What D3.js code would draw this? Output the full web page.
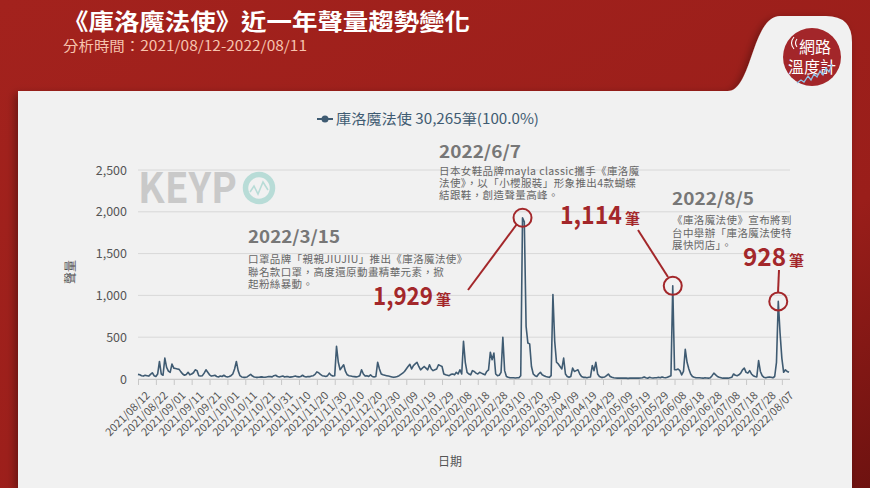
<!DOCTYPE html>
<html>
<head>
<meta charset="utf-8">
<script src="https://cdn.jsdelivr.net/npm/d3@7"></script>
<style>
html,body{margin:0;padding:0;background:#a11f1b;}
svg{display:block;}
text{font-family:"Noto Sans CJK TC","Noto Sans",sans-serif;}
</style>
</head>
<body>
<div id="chart"></div>
<script>
// ---- data ----
const startDate = "2021-08-12";
const values = [
  55, 50, 40, 35, 45, 40, 35, 55, 75, 40,
  30, 60, 210, 60, 45, 250, 140, 95, 80, 180,
  130, 125, 120, 115, 85, 60, 45, 55, 80, 50,
  60, 75, 110, 100, 40, 35, 40, 70, 110, 80,
  50, 35, 40, 45, 30, 25, 35, 30, 45, 30,
  25, 30, 40, 60, 120, 210, 100, 40, 25, 20,
  20, 25, 40, 55, 35, 25, 20, 20, 22, 25,
  22, 20, 25, 30, 28, 25, 40, 45, 30, 25,
  30, 35, 25, 30, 28, 22, 25, 30, 35, 28,
  25, 30, 45, 30, 25, 30, 28, 35, 40, 55,
  85, 75, 55, 40, 35, 30, 40, 70, 45, 35,
  40, 390, 200, 110, 140, 170, 90, 50, 40, 35,
  30, 28, 25, 30, 40, 110, 60, 35, 40, 30,
  50, 30, 25, 30, 200, 120, 60, 50, 45, 40,
  35, 30, 25, 20, 25, 30, 40, 55, 70, 90,
  120, 150, 175, 120, 160, 180, 200, 150, 110, 130,
  150, 130, 110, 170, 120, 100, 110, 120, 170, 160,
  150, 60, 50, 45, 40, 55, 60, 50, 80, 60,
  110, 60, 450, 200, 80, 60, 50, 100, 90, 70,
  60, 80, 70, 60, 50, 90, 110, 320, 230, 310,
  60, 40, 45, 80, 500, 100, 30, 20, 15, 15,
  15, 12, 15, 15, 40, 1929, 1880, 630, 430, 420,
  150, 60, 40, 30, 60, 80, 50, 40, 30, 25,
  20, 40, 1010, 450, 200, 180, 150, 120, 250, 60,
  30, 20, 30, 130, 90, 100, 110, 60, 30, 20,
  20, 15, 20, 25, 160, 100, 200, 60, 30, 20,
  20, 25, 40, 60, 30, 20, 15, 12, 10, 10,
  10, 12, 10, 10, 8, 10, 12, 10, 10, 10,
  10, 12, 15, 25, 15, 10, 20, 15, 12, 15,
  15, 20, 15, 25, 18, 15, 20, 30, 40, 1114,
  110, 110, 120, 100, 50, 90, 355, 200, 120, 60,
  30, 20, 15, 15, 15, 12, 10, 15, 12, 10,
  15, 40, 70, 50, 30, 20, 15, 10, 10, 12,
  10, 15, 20, 60, 45, 40, 50, 70, 110, 130,
  80, 70, 100, 60, 40, 30, 25, 220, 90, 40,
  20, 15, 20, 25, 20, 15, 30, 200, 928, 550,
  250, 80, 110, 90, 80
];
const tickLabels = [
  "2021/08/12","2021/08/22","2021/09/01","2021/09/11","2021/09/21","2021/10/01",
  "2021/10/11","2021/10/21","2021/10/31","2021/11/10","2021/11/20","2021/11/30",
  "2021/12/10","2021/12/20","2021/12/30","2022/01/09","2022/01/19","2022/01/29",
  "2022/02/08","2022/02/18","2022/02/28","2022/03/10","2022/03/20","2022/03/30",
  "2022/04/09","2022/04/19","2022/04/29","2022/05/09","2022/05/19","2022/05/29",
  "2022/06/08","2022/06/18","2022/06/28","2022/07/08","2022/07/18","2022/07/28",
  "2022/08/07"
];
const yTicks = [0, 500, 1000, 1500, 2000, 2500];
const seriesName = "庫洛魔法使";
const legendLabel = "庫洛魔法使 30,265筆(100.0%)";
const title = "《庫洛魔法使》近一年聲量趨勢變化";
const subtitle = "分析時間：2021/08/12-2022/08/11";
const annotations = [
  {date:"2022/03/15", value:1929, label:"1,929", head:"2022/3/15",
   lines:["口罩品牌「親親JIUJIU」推出《庫洛魔法使》","聯名款口罩，高度還原動畫精華元素，掀","起粉絲暴動。"]},
  {date:"2022/06/07", value:1114, label:"1,114", head:"2022/6/7",
   lines:["日本女鞋品牌mayla  classic攜手《庫洛魔","法使》，以「小櫻服裝」形象推出4款蝴蝶","結跟鞋，創造聲量高峰。"]},
  {date:"2022/08/05", value:928, label:"928", head:"2022/8/5",
   lines:["《庫洛魔法使》宣布將到","台中舉辦「庫洛魔法使特","展快閃店」。"]}
];

// ---- setup ----
const W = 870, H = 488;
const parse = d3.timeParse("%Y-%m-%d");
const parseSlash = d3.timeParse("%Y/%m/%d");
const t0 = parse(startDate);
const data = values.map((v, i) => ({date: d3.timeDay.offset(t0, i), value: v}));

const svg = d3.select("#chart").append("svg").attr("width", W).attr("height", H);
const defs = svg.append("defs");
const g1 = defs.append("linearGradient").attr("id","hdr").attr("x1","0").attr("x2","1").attr("y1","0").attr("y2","1");
g1.append("stop").attr("offset","0%").attr("stop-color","#a3221d");
g1.append("stop").attr("offset","70%").attr("stop-color","#9a1e1a");
g1.append("stop").attr("offset","100%").attr("stop-color","#6e1210");
const f = defs.append("filter").attr("id","shadow").attr("x","-10%").attr("y","-10%").attr("width","120%").attr("height","130%");
f.append("feDropShadow").attr("dx",-3).attr("dy",3).attr("stdDeviation",4).attr("flood-color","#000").attr("flood-opacity",0.35);

svg.append("rect").attr("width", W).attr("height", H).attr("fill", "url(#hdr)");

// card shape
const card = d3.path();
card.moveTo(18, 91);
card.lineTo(728, 91);
card.bezierCurveTo(752, 91, 752, 16, 780, 16);
card.lineTo(826, 16);
card.quadraticCurveTo(852, 16, 852, 42);
card.lineTo(852, 488);
card.lineTo(18, 488);
card.closePath();
svg.append("path").attr("d", card.toString()).attr("fill", "#f1f1f1").attr("filter", "url(#shadow)");

// title
svg.append("text").attr("x", 63).attr("y", 30).attr("fill", "#fff")
  .attr("font-size", 23).attr("font-weight", "bold")
  .attr("textLength", 407).attr("lengthAdjust", "spacingAndGlyphs").text(title);
svg.append("text").attr("x", 63).attr("y", 51).attr("fill", "#f6c3ae")
  .attr("font-size", 14).attr("textLength", 244).attr("lengthAdjust", "spacingAndGlyphs").text(subtitle);

// logo
const logo = svg.append("g");
logo.append("circle").attr("cx", 812).attr("cy", 57).attr("r", 29).attr("fill", "#a3262a");
logo.append("text").attr("x", 815).attr("y", 53).attr("text-anchor","middle").attr("fill","#fff")
  .attr("font-size", 16).text("網路");
logo.append("text").attr("x", 812).attr("y", 73).attr("text-anchor","middle").attr("fill","#fff")
  .attr("font-size", 16).text("溫度計");
logo.append("path").attr("d","M797,39 q-3,4 0,8").attr("fill","none").attr("stroke","#fff").attr("stroke-width",1.1);
logo.append("path").attr("d","M794,37 q-5,6 0,12").attr("fill","none").attr("stroke","#fff").attr("stroke-width",1.1);
logo.append("polyline").attr("points","797,83 801,80 804,82 808,76 811,80 814,74 817,77 820,71 823,75 826,68 829,72 832,64")
  .attr("fill","none").attr("stroke","#8fc3e8").attr("stroke-width",1.3);

// scales
const x = d3.scaleTime().domain([t0, data[data.length-1].date]).range([138, 789]);
const y = d3.scaleLinear().domain([0, 2500]).range([379, 170]);

// grid
svg.append("g").selectAll("line").data(yTicks).join("line")
  .attr("x1", 138).attr("x2", 790).attr("y1", d => y(d)).attr("y2", d => y(d))
  .attr("stroke", "#d8d8d8").attr("stroke-width", 1);

// y axis labels
const yAxis = d3.axisLeft(y).tickValues(yTicks).tickFormat(d3.format(",")).tickSize(0).tickPadding(11);
const ya = svg.append("g").attr("transform", "translate(138,0)").call(yAxis);
ya.select(".domain").remove();
ya.selectAll("text").attr("font-size", 12.5).attr("fill", "#555").attr("font-family", "'Noto Sans','Noto Sans CJK TC',sans-serif");

svg.append("text").attr("transform", "translate(75,272) rotate(-90)").attr("text-anchor","middle")
  .attr("font-size", 12).attr("fill", "#555").text("聲量");

// watermark
svg.append("text").attr("x", 138).attr("y", 203).attr("font-size", 42).attr("font-weight", "bold")
  .attr("fill", "#c9c9c9").attr("font-family", "'Liberation Sans',Arial,sans-serif")
  .attr("textLength", 99).attr("lengthAdjust","spacingAndGlyphs").text("KEYP");
svg.append("circle").attr("cx", 259).attr("cy", 188).attr("r", 13.5).attr("fill","none")
  .attr("stroke","#b8dcd7").attr("stroke-width",5.5);
svg.append("polyline").attr("points","250,192 254,186 258,194 263,182 268,190")
  .attr("fill","none").attr("stroke","#b8dcd7").attr("stroke-width",1.6);

// x axis
const tickDates = tickLabels.map(s => parseSlash(s));
const xAxis = d3.axisBottom(x).tickValues(tickDates).tickFormat(d3.timeFormat("%Y/%m/%d")).tickSize(6).tickPadding(4);
const xa = svg.append("g").attr("transform", "translate(0,379)").call(xAxis);
xa.select(".domain").attr("stroke", "#c8c8c8").attr("d", "M138,0.5H790");
xa.selectAll(".tick line").attr("stroke", "#c8c8c8");
xa.selectAll("text").attr("font-size", 11).attr("fill", "#555")
  .attr("font-family", "'Noto Sans','Noto Sans CJK TC',sans-serif")
  .attr("text-anchor", "end").attr("dy", 0)
  .attr("transform", "translate(5,10) rotate(-45)");

svg.append("text").attr("x", 450).attr("y", 466).attr("text-anchor","middle")
  .attr("font-size", 12).attr("fill", "#555").text("日期");

// line
const line = d3.line().x(d => x(d.date)).y(d => y(d.value));
svg.append("path").datum(data).attr("d", line).attr("fill", "none")
  .attr("stroke", "#3f5b72").attr("stroke-width", 1.6).attr("stroke-linejoin", "round");

// legend
const lg = svg.append("g");
lg.append("line").attr("x1", 317).attr("x2", 333).attr("y1", 119).attr("y2", 119).attr("stroke", "#3f5b72").attr("stroke-width", 2);
lg.append("circle").attr("cx", 325).attr("cy", 119).attr("r", 3.5).attr("fill", "#3f5b72");
lg.append("text").attr("x", 336).attr("y", 124).attr("font-size", 14).attr("fill", "#3f5b72")
  .attr("textLength", 203).attr("lengthAdjust","spacingAndGlyphs").text(legendLabel);

// annotations
const red = "#a3272a";
const headFont = "'DejaVu Serif','Liberation Serif',serif";
const layout = [
  {hx:248, hy:243, tw:92, ty:263, sp:12.5, nx:373, ny:305, nw:60, lx1:468, ly1:290, lx2:517, ly2:224},
  {hx:439, hy:158, tw:82, ty:175, sp:12, nx:560, ny:224, nw:62, lx1:638, ly1:230, lx2:668, ly2:277},
  {hx:672, hy:205, tw:82, ty:224, sp:12.5, nx:743, ny:266, nw:43, lx1:779, ly1:270, lx2:778, ly2:293}
];
annotations.forEach((a, i) => {
  const L = layout[i];
  const g = svg.append("g");
  g.append("text").attr("x", L.hx).attr("y", L.hy).attr("font-family", headFont).attr("font-weight","bold")
    .attr("font-size", 17).attr("fill", "#777").attr("textLength", L.tw).attr("lengthAdjust","spacingAndGlyphs").text(a.head);
  a.lines.forEach((t, j) => {
    g.append("text").attr("x", L.hx).attr("y", L.ty + j*L.sp).attr("font-size", 10.5).attr("fill", "#666")
      .attr("letter-spacing", 0.4).text(t);
  });
  g.append("text").attr("x", L.nx).attr("y", L.ny).attr("font-family","'Liberation Sans',Arial,sans-serif")
    .attr("font-weight","bold").attr("font-size", 25).attr("fill", red)
    .attr("textLength", L.nw).attr("lengthAdjust","spacingAndGlyphs").text(a.label);
  g.append("text").attr("x", L.nx + L.nw + 3).attr("y", L.ny).attr("font-weight","bold")
    .attr("font-size", 15).attr("fill", red).text("筆");
  g.append("line").attr("x1", L.lx1).attr("y1", L.ly1).attr("x2", L.lx2).attr("y2", L.ly2)
    .attr("stroke", red).attr("stroke-width", 2);
  const d = parseSlash(a.date);
  g.append("circle").attr("cx", x(d)).attr("cy", y(a.value)).attr("r", 9)
    .attr("fill","none").attr("stroke", red).attr("stroke-width", 2);
});
</script>
</body>
</html>
